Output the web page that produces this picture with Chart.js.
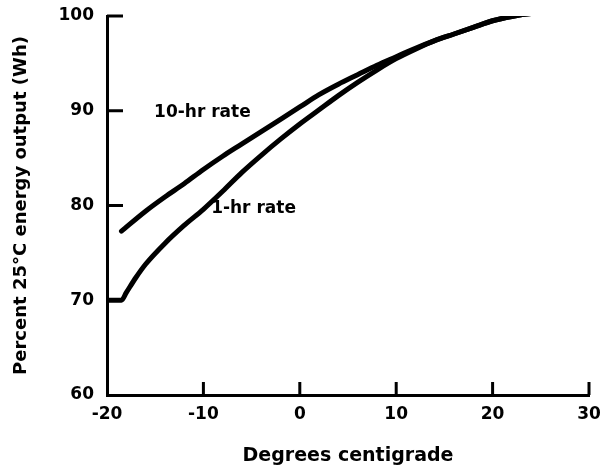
<!DOCTYPE html>
<html>
<head>
<meta charset="utf-8">
<script src="https://cdn.jsdelivr.net/npm/chart.js@4/dist/chart.umd.min.js"></script>
<style>
  html, body { margin: 0; padding: 0; background: #fff; }
  #wrap { width: 601px; height: 469px; }
</style>
</head>
<body>
<div id="wrap"><canvas id="chart"></canvas></div>
<script>
// temperature (deg C) vs percent of 25 C energy output
const temps10hr  = [-18.5, -16, -14, -12, -10, -8, -6, -4, -2, 0, 2, 4, 6, 8, 10, 12, 14, 16, 18, 20, 22, 24, 25];
const output10hr = [77.3, 79.4, 80.9, 82.3, 83.8, 85.2, 86.5, 87.8, 89.1, 90.4, 91.7, 92.8, 93.8, 94.8, 95.7, 96.6, 97.4, 98.1, 98.8, 99.5, 99.95, 100.25, 100.3];

const temps1hr  = [-20, -18.5, -18, -17, -16, -14, -12, -10, -8, -6, -4, -2, 0, 2, 4, 6, 8, 10, 12, 14, 16, 18, 20, 22, 24, 25];
const output1hr = [70, 70, 70.8, 72.4, 73.8, 76.0, 77.9, 79.6, 81.5, 83.5, 85.3, 87.0, 88.6, 90.1, 91.6, 93.0, 94.3, 95.5, 96.5, 97.4, 98.1, 98.8, 99.5, 99.95, 100.25, 100.3];

const xTicks = [-20, -10, 0, 10, 20, 30];
const yTicks = [60, 70, 80, 90, 100];

// curve labels, placed in data units
const curveLabels = [
  { text: '10-hr rate', x: -10.1, y: 89.8 },
  { text: '1-hr rate', x: -4.8, y: 79.7 }
];

const FONT = '"DejaVu Sans", sans-serif';

function toPoints(xs, ys) {
  return xs.map((x, i) => ({ x: x, y: ys[i] }));
}

// short inward tick marks + text beside the curves
const annotate = {
  id: 'annotate',
  afterDatasetsDraw(chart) {
    const { ctx, scales: { x, y } } = chart;
    ctx.save();
    ctx.strokeStyle = '#000';
    ctx.lineWidth = 3;
    ctx.lineCap = 'butt';
    yTicks.slice(1).forEach(v => {
      const py = y.getPixelForValue(v);
      ctx.beginPath();
      ctx.moveTo(x.left, py);
      ctx.lineTo(x.left + 16, py);
      ctx.stroke();
    });
    xTicks.slice(1).forEach(v => {
      const px = x.getPixelForValue(v);
      ctx.beginPath();
      ctx.moveTo(px, y.bottom);
      ctx.lineTo(px, y.bottom - 13);
      ctx.stroke();
    });
    ctx.fillStyle = '#000';
    ctx.font = 'bold 17px ' + FONT;
    ctx.textAlign = 'center';
    ctx.textBaseline = 'middle';
    curveLabels.forEach(l => {
      ctx.fillText(l.text, x.getPixelForValue(l.x), y.getPixelForValue(l.y));
    });
    ctx.restore();
  }
};

const lineStyle = {
  borderColor: '#000',
  borderWidth: 5,
  borderCapStyle: 'round',
  borderJoinStyle: 'round',
  pointRadius: 0,
  fill: false,
  cubicInterpolationMode: 'monotone'
};

new Chart(document.getElementById('chart'), {
  type: 'line',
  data: {
    datasets: [
      Object.assign({ label: '10-hr rate', data: toPoints(temps10hr, output10hr) }, lineStyle),
      Object.assign({ label: '1-hr rate', data: toPoints(temps1hr, output1hr) }, lineStyle)
    ]
  },
  options: {
    responsive: true,
    maintainAspectRatio: false,
    animation: false,
    layout: { padding: { top: 16, right: 12, left: 0, bottom: 0 } },
    plugins: { legend: { display: false }, tooltip: { enabled: false } },
    scales: {
      x: {
        type: 'linear',
        min: -20, max: 30,
        afterBuildTicks: s => { s.ticks = xTicks.map(v => ({ value: v })); },
        afterFit: s => { s.height = 74; s.paddingLeft = 0; s.paddingRight = 0; },
        grid: { drawOnChartArea: false, drawTicks: false, color: 'rgba(0,0,0,0)' },
        border: { display: true, color: '#000', width: 3 },
        ticks: { padding: 9, color: '#000', font: { family: FONT, size: 17, weight: 'bold' } },
        title: {
          display: true,
          text: 'Degrees centigrade',
          color: '#000',
          padding: { top: 4, bottom: 2 },
          font: { family: FONT, size: 19, weight: 'bold' }
        }
      },
      y: {
        min: 60, max: 100,
        afterBuildTicks: s => { s.ticks = yTicks.map(v => ({ value: v })); },
        afterFit: s => { s.width = 107; s.paddingTop = 0; s.paddingBottom = 0; },
        grid: { drawOnChartArea: false, drawTicks: false, color: 'rgba(0,0,0,0)' },
        border: { display: true, color: '#000', width: 3 },
        ticks: { padding: 13, color: '#000', font: { family: FONT, size: 17, weight: 'bold' } },
        title: {
          display: true,
          text: 'Percent 25°C energy output (Wh)',
          color: '#000',
          padding: { top: 11, bottom: 0 },
          font: { family: FONT, size: 18, weight: 'bold' }
        }
      }
    }
  },
  plugins: [annotate]
});
</script>
</body>
</html>
